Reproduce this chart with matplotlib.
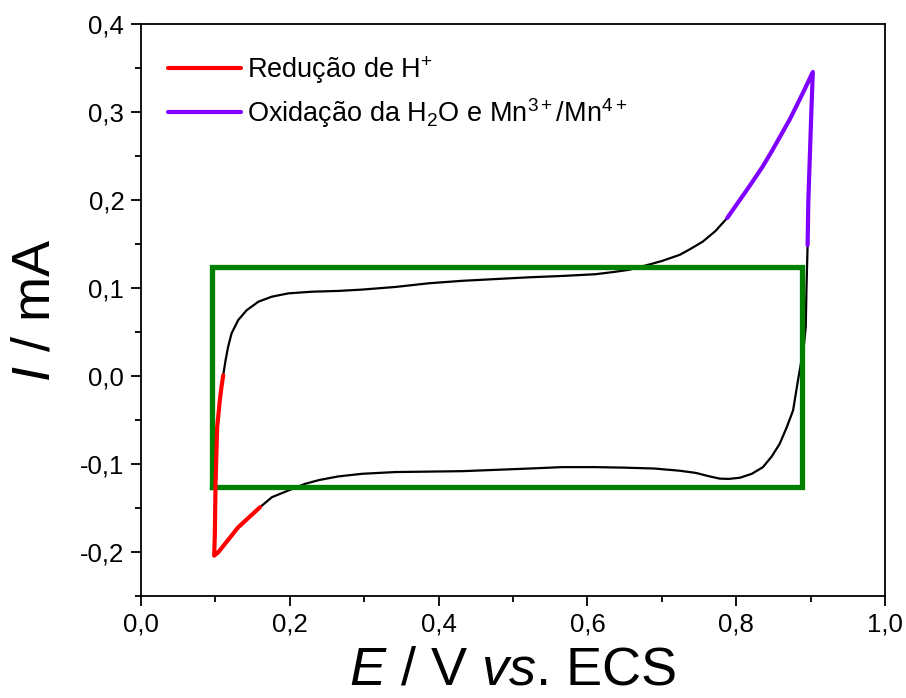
import numpy as np
import matplotlib
matplotlib.use("Agg")
import matplotlib.pyplot as plt
from matplotlib.ticker import MultipleLocator, FuncFormatter

# --- fonts ---
plt.rcParams['font.family'] = ['Liberation Sans', 'DejaVu Sans']
plt.rcParams['mathtext.fontset'] = 'custom'
plt.rcParams['mathtext.rm'] = 'Liberation Sans'
plt.rcParams['mathtext.it'] = 'Liberation Sans:italic'

# --- data (E / V, I / mA) ---
# forward scan, from the end of the red part up to the start of the purple part
E_up = [0.1105, 0.1137, 0.117, 0.1217, 0.1307, 0.142, 0.1577, 0.1757, 0.198,
        0.2295, 0.2655, 0.297, 0.342, 0.387, 0.432, 0.477, 0.522, 0.566,
        0.611, 0.635, 0.656, 0.683, 0.70, 0.724, 0.737, 0.755, 0.772, 0.788]
I_up = [0.001, 0.018, 0.033, 0.0486, 0.0639, 0.075, 0.0847, 0.0904, 0.0942,
        0.0961, 0.0970, 0.0985, 0.1015, 0.1057, 0.1085, 0.1105, 0.1125, 0.1140,
        0.1160, 0.1185, 0.1210, 0.1270, 0.1310, 0.1380, 0.1440, 0.1530, 0.1650, 0.1800]

# purple: oxidation of H2O and Mn3+/Mn4+
E_ox = [0.788, 0.800, 0.812, 0.825, 0.836, 0.848, 0.860, 0.872, 0.882, 0.893,
        0.903, 0.901, 0.899, 0.897, 0.896]
I_ox = [0.180, 0.1945, 0.209, 0.225, 0.239, 0.256, 0.274, 0.292, 0.309, 0.328,
        0.346, 0.300, 0.250, 0.200, 0.149]

# reverse scan, from the end of the purple part to the start of the red part
E_down = [0.896, 0.8945, 0.8935, 0.891, 0.8877, 0.883, 0.8765, 0.868, 0.8585,
          0.848, 0.836, 0.821, 0.805, 0.790, 0.778, 0.762, 0.746, 0.724,
          0.690, 0.650, 0.611, 0.566, 0.522, 0.477, 0.432, 0.387, 0.342,
          0.297, 0.265, 0.240, 0.2206, 0.198, 0.176, 0.160]
I_down = [0.149, 0.100, 0.056, 0.035, 0.018, -0.005, -0.0388, -0.058, -0.0768,
          -0.091, -0.1034, -0.111, -0.1155, -0.1168, -0.1165, -0.1135, -0.110, -0.1075,
          -0.1050, -0.1040, -0.1034, -0.1034, -0.105, -0.1065, -0.108, -0.1085, -0.109,
          -0.111, -0.1140, -0.1180, -0.1224, -0.130, -0.1376, -0.149]

# red: reduction of H+
E_red = [0.160, 0.1307, 0.1128, 0.1038, 0.0984, 0.0993, 0.1002, 0.1015, 0.1024,
         0.1038, 0.106, 0.1082, 0.1105]
I_red = [-0.149, -0.1718, -0.1908, -0.2003, -0.2041, -0.1794, -0.1224, -0.0844, -0.0578,
         -0.0464, -0.027, -0.0122, 0.001]

# green capacitive window
box_E = [0.096, 0.889]
box_I = [-0.126, 0.124]

label_red = 'Redução de H$^{+}$'
label_ox = 'Oxidação da H$_{2}$O e Mn$^{3+}$/Mn$^{4+}$'

# --- plot ---
fig = plt.figure(figsize=(9.06, 6.98), dpi=100)
ax = fig.add_axes([0.1556, 0.1461, 0.8212, 0.8188])

ax.plot(E_up, I_up, color='black', lw=1.6, zorder=2)
ax.plot(E_down, I_down, color='black', lw=1.6, zorder=2)

bx = [box_E[0], box_E[1], box_E[1], box_E[0], box_E[0]]
by = [box_I[0], box_I[0], box_I[1], box_I[1], box_I[0]]
ax.plot(bx, by, color='#008000', lw=3.8, solid_joinstyle='miter', zorder=3)

ax.plot(E_red, I_red, color='#ff0000', lw=3.0, solid_capstyle='round', zorder=4, label=label_red)
ax.plot(E_ox, I_ox, color='#8000ff', lw=3.0, solid_capstyle='round', zorder=4, label=label_ox)

ax.set_xlim(0, 1.0)
ax.set_ylim(-0.25, 0.4)
ax.xaxis.set_major_locator(MultipleLocator(0.2))
ax.xaxis.set_minor_locator(MultipleLocator(0.1))
ax.yaxis.set_major_locator(MultipleLocator(0.1))
ax.yaxis.set_minor_locator(MultipleLocator(0.05))
comma = FuncFormatter(lambda v, p: f'{v:.1f}'.replace('.', ',').replace('-0,0', '0,0'))
ax.xaxis.set_major_formatter(comma)
ax.yaxis.set_major_formatter(comma)
ax.tick_params(which='major', direction='out', length=7, width=1.3, labelsize=18.5, pad=5)
ax.tick_params(which='minor', direction='out', length=4, width=1.3)
for s in ax.spines.values():
    s.set_linewidth(1.3)

ax.set_xlabel('$\\mathit{E}$ / V $\\mathit{vs}$. ECS', fontsize=39, labelpad=6)
ax.set_ylabel('$\\mathit{I}$ / mA', fontsize=39, labelpad=14)

ax.legend(loc='upper left', bbox_to_anchor=(0.0, 0.996), frameon=False, fontsize=19.5,
          handlelength=2.7, handletextpad=0.2, labelspacing=0.38, borderaxespad=0.6)

fig.savefig('out.png', dpi=100)
